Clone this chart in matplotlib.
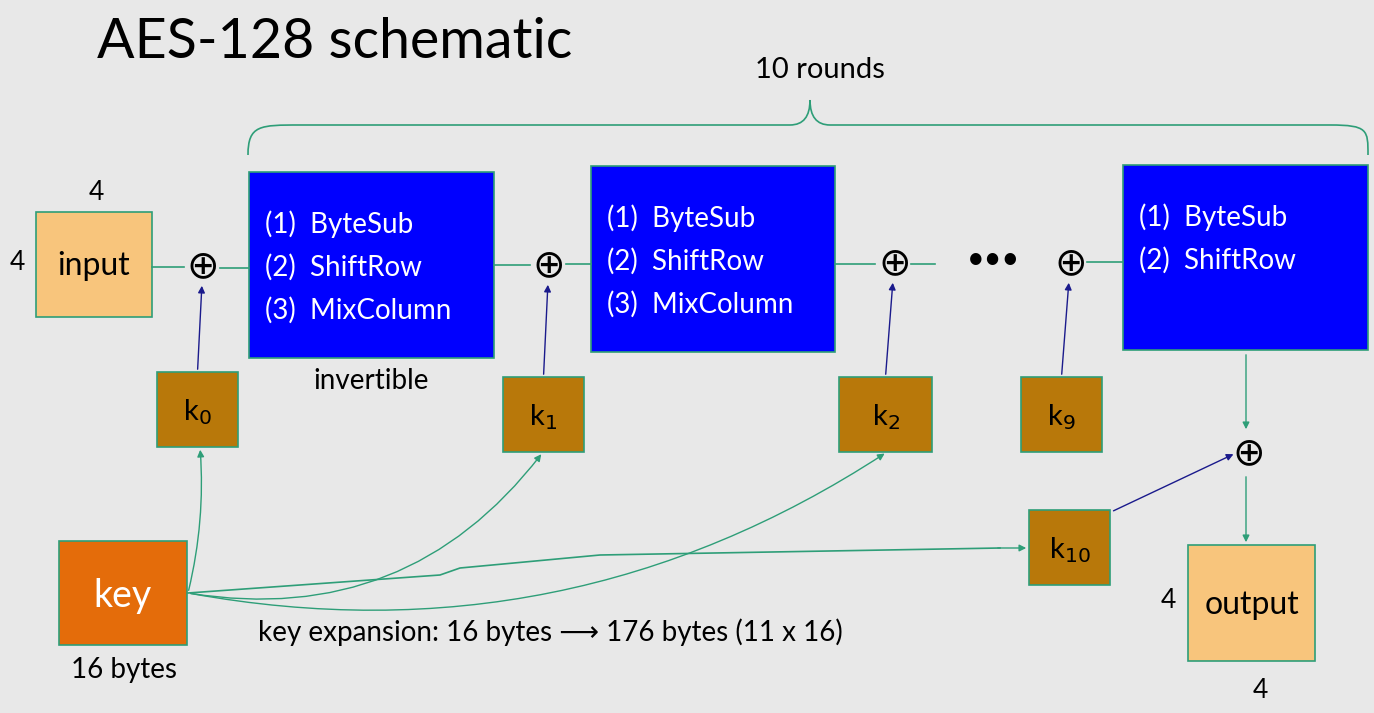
import matplotlib.pyplot as plt
from matplotlib.patches import Rectangle, FancyArrowPatch
from matplotlib.path import Path
from matplotlib.patches import PathPatch

plt.rcParams['font.family'] = ['Lato', 'DejaVu Sans']

TEAL = '#2e9e78'
NAVY = '#1a1a8c'
BLUE = '#0000ff'
BROWN = '#b8780a'
LIGHT = '#f8c57c'
ORANGE = '#e46c0a'

# round boxes: (x0, y0, x1, y1), lines of text
round_boxes = [(249, 172, 494, 358), (591, 166, 835, 352), (1123, 165, 1368, 350)]
round_steps = [['(1)  ByteSub', '(2)  ShiftRow', '(3)  MixColumn'],
               ['(1)  ByteSub', '(2)  ShiftRow', '(3)  MixColumn'],
               ['(1)  ByteSub', '(2)  ShiftRow']]
key_boxes = [(157, 372, 238, 447), (503, 377, 584, 452), (839, 377, 932, 452),
             (1021, 377, 1102, 452), (1029, 510, 1110, 585)]
key_labels = ['k$_0$', 'k$_1$', 'k$_2$', 'k$_9$', 'k$_{10}$']
xors = [(202, 267), (548, 266), (893, 264), (1069, 264), (1248, 454)]

fig = plt.figure(figsize=(13.74, 7.13), dpi=100)
fig.patch.set_facecolor('#e8e8e8')
ax = fig.add_axes([0, 0, 1, 1])
ax.set_xlim(0, 1374)
ax.set_ylim(713, 0)
ax.axis('off')

def box(b, color, ec=TEAL):
    ax.add_patch(Rectangle((b[0], b[1]), b[2] - b[0], b[3] - b[1], fc=color, ec=ec, lw=1.2))

def line(pts, color=TEAL, lw=1.2):
    ax.plot([p[0] for p in pts], [p[1] for p in pts], color=color, lw=lw)

def arrow(p0, p1, color=TEAL, rad=0.0):
    ax.add_patch(FancyArrowPatch(p0, p1, arrowstyle='-|>', mutation_scale=10, color=color,
                                 lw=1.0, connectionstyle=f'arc3,rad={rad}'))

ax.text(97, 42, 'AES-128 schematic', fontsize=40, va='center', ha='left')

# brace
verts = [(248, 155), (248, 125), (260, 125), (300, 125),
         (790, 125), (810, 125), (810, 100),
         (810, 125), (830, 125), (1330, 125),
         (1368, 125), (1368, 130), (1368, 155)]
codes = [Path.MOVETO, Path.CURVE4, Path.CURVE4, Path.CURVE4,
         Path.LINETO, Path.CURVE3, Path.CURVE3,
         Path.CURVE3, Path.CURVE3, Path.LINETO,
         Path.CURVE4, Path.CURVE4, Path.CURVE4]
ax.add_patch(PathPatch(Path(verts, codes), fc='none', ec=TEAL, lw=1.2))
ax.text(820, 70, '10 rounds', fontsize=21, ha='center', va='center')

# input
box((36, 212, 152, 317), LIGHT)
ax.text(94, 266, 'input', fontsize=23, ha='center', va='center')
ax.text(96, 193, '4', fontsize=19, ha='center', va='center')
ax.text(17, 263, '4', fontsize=19, ha='center', va='center')

for b, steps in zip(round_boxes, round_steps):
    box(b, BLUE)
    for i, s in enumerate(steps):
        ax.text(b[0] + 16, b[1] + 52 + 43 * i, s, fontsize=20, color='white', va='center')
ax.text(371, 381, 'invertible', fontsize=20, ha='center', va='center')

for b, lab in zip(key_boxes, key_labels):
    box(b, BROWN)
    ax.text((b[0] + b[2]) / 2, (b[1] + b[3]) / 2 + 3, lab, fontsize=21, ha='center', va='center')

for x, y in xors:
    ax.text(x, y, '$\\oplus$', fontsize=28, ha='center', va='center')
ax.text(993, 259, '•••', fontsize=22, ha='center', va='center')

# horizontal links
line([(152, 267), (184, 267)])
line([(220, 268), (249, 268)])
line([(494, 265), (530, 265)])
line([(566, 264), (591, 264)])
line([(835, 264), (875, 264)])
line([(911, 264), (935, 264)])
line([(1087, 262), (1123, 262)])

# key to xor arrows
for b, (x, y) in zip(key_boxes[:4], xors[:4]):
    arrow(((b[0] + b[2]) / 2, b[1]), (x, y + 16), color=NAVY)
arrow((1111, 512), (1236, 453), color=NAVY)
arrow((1246, 352), (1246, 432))
arrow((1246, 474), (1246, 545))

# key
box((59, 541, 187, 645), ORANGE)
ax.text(123, 596, 'key', fontsize=27, color='white', ha='center', va='center')
ax.text(124, 670, '16 bytes', fontsize=20, ha='center', va='center')
src = (188, 593)
arrow(src, (200, 447), rad=0.08)
arrow(src, (543, 452), rad=0.3)
arrow(src, (887, 452), rad=0.2)
line([(188, 593), (440, 575), (460, 568), (600, 555), (1000, 548)])
arrow((995, 548), (1029, 548))
ax.text(258, 632, 'key expansion: 16 bytes \u27f6 176 bytes (11 x 16)', fontsize=20, va='center')

# output
box((1188, 545, 1315, 661), LIGHT)
ax.text(1252, 605, 'output', fontsize=23, ha='center', va='center')
ax.text(1168, 600, '4', fontsize=19, ha='center', va='center')
ax.text(1260, 690, '4', fontsize=19, ha='center', va='center')

fig.savefig('out.png', dpi=100, facecolor=fig.get_facecolor())
